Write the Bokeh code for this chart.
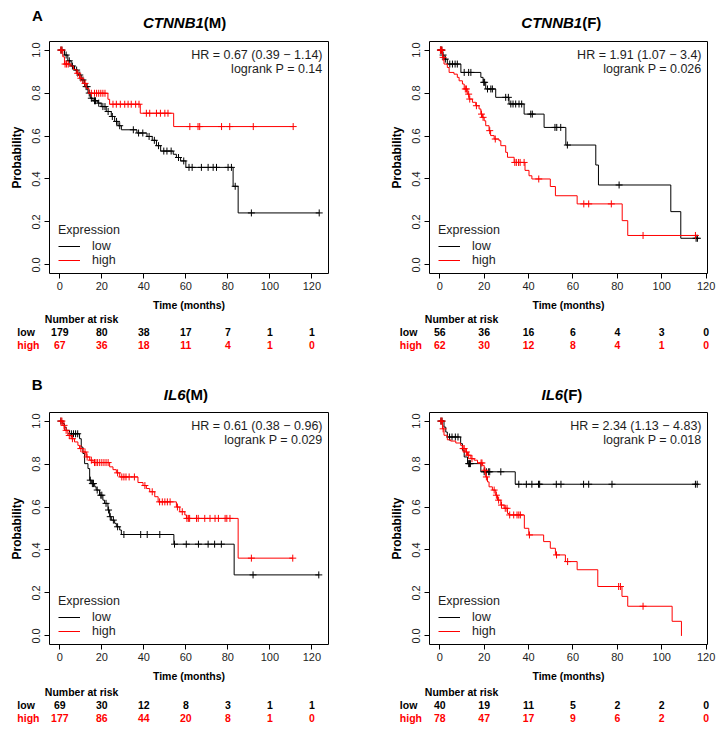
import numpy as np
from bokeh.plotting import figure
from bokeh.layouts import column, row
from bokeh.models import Range1d, FixedTicker, PrintfTickFormatter, Legend, LegendItem, Label
from bokeh.core.properties import value
from bokeh.embed import file_html
from bokeh.resources import INLINE

# ------------------------------------------------------------------ data
x_ticks = [0, 20, 40, 60, 80, 100, 120]
y_ticks = [0.0, 0.2, 0.4, 0.6, 0.8, 1.0]
risk_times = [0, 20, 40, 60, 80, 100, 120]

# A left: CTNNB1 (M)
ctnnb1_m_low_t = [2.2, 3.8, 5.4, 7.0, 8.6, 10.2, 11.8, 13.4, 14.5, 15.8, 18.1, 19.7, 22.1, 24.5,
                  26.1, 27.7, 29.3, 36.7, 41.5, 44.0, 46.0, 48.0, 54.0, 55.5, 57.5, 60.0, 82.5, 84.9]
ctnnb1_m_low_s = [0.977, 0.95, 0.926, 0.907, 0.884, 0.861, 0.83, 0.80, 0.776, 0.764, 0.753, 0.737,
                  0.714, 0.691, 0.668, 0.648, 0.629, 0.614, 0.598, 0.58, 0.555, 0.53, 0.515, 0.50,
                  0.484, 0.454, 0.366, 0.242]
ctnnb1_m_low_cens = [0.5, 1.0, 3.0, 4.5, 6.0, 8.0, 9.5, 11.0, 12.5, 13.0, 14.0, 15.0, 16.5, 17.0,
                     18.5, 20.5, 21.5, 23.0, 25.0, 27.0, 28.5, 35.0, 37.5, 39.5, 42.5, 45.0, 47.0,
                     49.5, 51.0, 53.0, 56.5, 59.0, 61.5, 63.0, 67.4, 70.6, 73.0, 74.6, 80.1, 81.7,
                     83.5, 91.2, 123.5]
ctnnb1_m_low_end = 123.5
ctnnb1_m_high_t = [1.4, 2.2, 4.9, 6.5, 7.8, 9.4, 11.0, 12.6, 13.8, 22.9, 23.7, 38.3, 54.2]
ctnnb1_m_high_s = [0.969, 0.935, 0.926, 0.910, 0.892, 0.869, 0.845, 0.822, 0.799, 0.771, 0.748,
                   0.706, 0.644]
ctnnb1_m_high_cens = [0.5, 1.0, 2.5, 3.2, 4.0, 8.5, 10.0, 12.0, 15.0, 16.5, 17.5, 18.5, 19.5, 20.5,
                      21.5, 25.3, 26.9, 28.8, 30.9, 32.5, 34.0, 36.1, 37.7, 41.2, 42.8, 46.0, 47.9,
                      50.0, 51.5, 61.9, 65.8, 66.6, 77.0, 80.9, 92.1, 111.1]
ctnnb1_m_high_end = 111.1
ctnnb1_m_risk_low = [179, 80, 38, 17, 7, 1, 1]
ctnnb1_m_risk_high = [67, 36, 18, 11, 4, 1, 0]

# A right: CTNNB1 (F)
ctnnb1_f_low_t = [1.2, 1.9, 3.4, 9.5, 18.5, 19.5, 20.7, 25.2, 31.2, 38.0, 47.0, 56.8, 70.3, 71.5,
                  104.1, 108.6]
ctnnb1_f_low_s = [0.977, 0.958, 0.935, 0.896, 0.873, 0.85, 0.819, 0.78, 0.749, 0.702, 0.64, 0.558,
                  0.465, 0.372, 0.248, 0.124]
ctnnb1_f_low_cens = [0.3, 0.6, 0.9, 1.5, 2.5, 4.5, 5.7, 6.9, 7.9, 11.0, 13.0, 14.0, 19.8, 20.2,
                     21.5, 23.0, 23.7, 29.7, 30.9, 32.0, 33.0, 34.2, 35.7, 36.9, 41.0, 41.7, 51.9,
                     52.7, 54.5, 57.5, 80.8, 115.5, 116.1]
ctnnb1_f_low_end = 116.1
ctnnb1_f_high_t = [1.2, 1.9, 3.4, 4.2, 6.4, 7.9, 8.7, 10.2, 11.0, 12.4, 13.2, 14.7, 16.2, 17.7,
                   18.5, 19.2, 20.0, 20.7, 22.2, 22.9, 24.5, 26.7, 27.5, 29.7, 30.5, 33.5, 38.4,
                   40.2, 41.5, 49.8, 52.1, 61.9, 82.2, 84.7]
ctnnb1_f_high_s = [0.966, 0.935, 0.919, 0.896, 0.888, 0.873, 0.857, 0.842, 0.819, 0.795, 0.772,
                   0.757, 0.741, 0.726, 0.702, 0.687, 0.671, 0.648, 0.625, 0.602, 0.586, 0.578,
                   0.555, 0.524, 0.501, 0.477, 0.44, 0.415, 0.40, 0.365, 0.322, 0.284, 0.206, 0.137]
ctnnb1_f_high_cens = [0.3, 0.6, 1.0, 1.5, 11.5, 12.0, 13.0, 13.5, 16.5, 18.8, 19.5, 22.5, 25.0,
                      33.8, 34.5, 35.5, 36.2, 38.0, 44.6, 64.9, 67.1, 77.3, 91.6, 115.2]
ctnnb1_f_high_end = 115.9
ctnnb1_f_risk_low = [56, 36, 16, 6, 4, 3, 0]
ctnnb1_f_risk_high = [62, 30, 12, 8, 4, 1, 0]

# B left: IL6 (M)
il6_m_low_t = [1.4, 2.2, 3.0, 4.6, 9.4, 10.2, 11.0, 11.8, 13.4, 14.2, 15.0, 16.6, 17.3, 18.9, 20.5,
               21.3, 22.9, 23.7, 24.5, 26.1, 26.9, 28.5, 29.3, 54.3, 83.0]
il6_m_low_s = [0.988, 0.972, 0.957, 0.941, 0.918, 0.879, 0.849, 0.802, 0.779, 0.725, 0.709, 0.694,
               0.679, 0.655, 0.632, 0.617, 0.586, 0.555, 0.539, 0.524, 0.508, 0.493, 0.472, 0.427,
               0.284]
il6_m_low_cens = [0.5, 5.5, 6.5, 7.5, 8.5, 14.5, 15.5, 16.0, 17.8, 19.5, 20.0, 22.0, 23.2, 24.0,
                  25.5, 27.5, 30.5, 38.5, 41.6, 47.6, 54.6, 60.2, 66.0, 70.6, 73.7, 76.9, 92.0,
                  123.3]
il6_m_low_end = 123.5
il6_m_high_t = [1.4, 2.2, 3.8, 5.4, 7.0, 8.6, 9.4, 11.0, 12.6, 14.2, 15.8, 23.7, 25.3, 26.9, 28.5,
                37.2, 39.6, 41.2, 42.8, 45.2, 46.8, 55.5, 57.1, 59.5, 60.3, 84.9]
il6_m_high_s = [0.98, 0.957, 0.933, 0.918, 0.903, 0.887, 0.872, 0.856, 0.833, 0.818, 0.807, 0.787,
                0.774, 0.759, 0.74, 0.714, 0.70, 0.686, 0.671, 0.648, 0.624, 0.60, 0.578, 0.563,
                0.547, 0.362]
il6_m_high_cens = [0.5, 1.0, 2.0, 3.0, 4.5, 6.0, 10.0, 12.0, 13.0, 15.0, 16.5, 17.2, 18.0, 19.0,
                   20.0, 21.0, 22.0, 23.0, 27.5, 29.5, 30.5, 31.5, 33.0, 35.5, 40.5, 44.0, 47.5,
                   48.8, 50.0, 51.2, 52.5, 56.0, 58.3, 60.5, 61.2, 61.8, 65.1, 65.9, 69.0, 71.5,
                   73.9, 75.5, 78.7, 79.5, 81.0, 91.2, 110.9]
il6_m_high_end = 110.9
il6_m_risk_low = [69, 30, 12, 8, 3, 1, 1]
il6_m_risk_high = [177, 86, 44, 20, 8, 1, 0]

# B right: IL6 (F)
il6_f_low_t = [1.9, 2.7, 3.4, 9.4, 10.2, 11.0, 12.5, 18.5, 34.0]
il6_f_low_s = [0.972, 0.949, 0.926, 0.895, 0.864, 0.833, 0.802, 0.764, 0.706]
il6_f_low_cens = [0.5, 1.0, 4.4, 5.5, 7.0, 8.2, 13.0, 13.4, 13.8, 20.0, 21.0, 22.0, 22.5, 27.5,
                  35.6, 39.0, 41.5, 44.5, 45.0, 52.5, 54.6, 64.8, 67.1, 77.6, 115.2, 116.0]
il6_f_low_end = 116.1
il6_f_high_t = [1.2, 1.9, 3.4, 4.9, 7.2, 9.4, 10.2, 11.7, 12.5, 14.0, 15.5, 17.0, 19.2, 20.0, 20.7,
                21.5, 22.2, 23.7, 25.2, 26.0, 27.5, 29.0, 30.5, 31.2, 38.1, 40.1, 46.8, 49.8, 52.1,
                56.6, 61.9, 71.2, 82.1, 84.7, 104.7, 108.9]
il6_f_high_s = [0.964, 0.934, 0.913, 0.907, 0.898, 0.887, 0.872, 0.856, 0.841, 0.825, 0.818, 0.805,
                0.794, 0.771, 0.74, 0.717, 0.694, 0.679, 0.655, 0.632, 0.609, 0.594, 0.570, 0.563,
                0.501, 0.47, 0.439, 0.408, 0.377, 0.346, 0.308, 0.23, 0.184, 0.138, 0.068, 0.0]
il6_f_high_cens = [0.5, 1.0, 1.5, 10.5, 11.0, 12.0, 13.0, 14.5, 18.6, 19.0, 20.3, 21.0, 24.5, 25.5,
                   26.5, 27.8, 29.5, 30.3, 31.5, 33.3, 34.8, 35.6, 36.3, 40.4, 52.6, 57.6, 80.6,
                   81.4, 91.6]
il6_f_high_end = 108.9
il6_f_risk_low = [40, 19, 11, 5, 2, 2, 0]
il6_f_risk_high = [78, 47, 17, 9, 6, 2, 0]

# ------------------------------------------------------------------ style
FONT = "Liberation Sans"
TXT = "#1e1e1e"
RED = "#ff0000"
BLK = "#000000"
COL = {"L": dict(width=361, left=49, right=33, lab_off=42.5),
       "R": dict(width=360, left=68, right=14, lab_off=40.0)}


def step_value(times, surv, c):
    i = int(np.searchsorted(np.asarray(times), c, side="right"))
    return 1.0 if i == 0 else surv[i - 1]


def blank_figure(width, height, xr, yr):
    f = figure(width=width, height=height, x_range=xr, y_range=yr, x_axis_type=None,
               y_axis_type=None, output_backend="svg", toolbar_location=None, min_border=0)
    f.outline_line_color = None
    f.background_fill_color = "white"
    f.border_fill_color = "white"
    return f


def header_figure(side, height, gene, suffix, jx, ty, letter=None, lx=0, ly=0):
    w = COL[side]["width"]
    h = blank_figure(w, height, Range1d(0, w), Range1d(height, 0))
    h.text(x=[jx], y=[ty], text=[gene], text_align="right", text_baseline="middle",
           text_font=value(FONT), text_font_style="bold italic", text_font_size="15px",
           text_color=BLK)
    h.text(x=[jx], y=[ty], text=[suffix], text_align="left", text_baseline="middle",
           text_font=value(FONT), text_font_style="bold", text_font_size="15px", text_color=BLK)
    if letter:
        h.text(x=[lx], y=[ly], text=[letter], text_align="center", text_baseline="middle",
               text_font=value(FONT), text_font_style="bold", text_font_size="15px",
               text_color=BLK)
    return h


def km_figure(side, tmax, height, top, bottom, curves, hr_text, p_text):
    c = COL[side]
    x0, x1 = -0.04 * tmax, 1.04 * tmax
    p = figure(width=c["width"], height=height, x_range=Range1d(x0, x1),
               y_range=Range1d(-0.04, 1.04), output_backend="svg", toolbar_location=None,
               min_border_left=c["left"], min_border_right=c["right"], min_border_top=top,
               min_border_bottom=bottom, x_axis_label="Time (months)",
               y_axis_label="Probability")
    p.xgrid.visible = False
    p.ygrid.visible = False
    p.outline_line_color = "black"
    p.outline_line_alpha = 1
    p.outline_line_width = 1
    p.background_fill_color = "white"
    p.border_fill_color = "white"
    for ax, ticks, bounds in ((p.xaxis[0], x_ticks, (0, 120)), (p.yaxis[0], y_ticks, (0, 1))):
        ax.ticker = FixedTicker(ticks=ticks)
        ax.bounds = bounds
        ax.axis_line_color = "black"
        ax.major_tick_line_color = "black"
        ax.major_tick_out = 5
        ax.major_tick_in = 0
        ax.minor_tick_line_color = None
        ax.major_label_text_font = FONT
        ax.major_label_text_font_size = "11px"
        ax.major_label_text_color = TXT
        ax.axis_label_text_font = FONT
        ax.axis_label_text_font_style = "bold"
        ax.axis_label_text_color = BLK
    p.xaxis.major_label_standoff = 3
    p.xaxis.axis_label_standoff = 6
    p.xaxis.axis_label_text_font_size = "10.5px"
    p.yaxis.formatter = PrintfTickFormatter(format="%.1f")
    p.yaxis.major_label_orientation = "vertical"
    p.yaxis.major_label_standoff = 4
    p.yaxis.axis_label_standoff = 6
    p.yaxis.axis_label_text_font_size = "12px"

    items = []
    for label, t, s, cens, tend, color in curves:
        xs = [0.0] + list(t) + [tend]
        ys = [1.0] + list(s) + [s[-1]]
        r = p.step(xs, ys, mode="after", line_color=color, line_width=1)
        cy = [step_value(t, s, cc) for cc in cens]
        p.scatter(cens, cy, marker="cross", size=7, line_color=color, line_width=1)
        items.append(LegendItem(label=label, renderers=[r]))

    leg = Legend(items=items, title="Expression", location=(9, 6), padding=0, margin=0,
                 spacing=0, glyph_width=22, glyph_height=12, label_height=12,
                 label_standoff=12, title_standoff=2, border_line_alpha=0,
                 background_fill_alpha=0, label_text_font=FONT, label_text_font_size="12.5px",
                 label_text_color=TXT, title_text_font=FONT, title_text_font_size="12.5px",
                 title_text_font_style="normal", title_text_color=TXT)
    p.add_layout(leg)

    for txt, dy in ((hr_text, -13.6), (p_text, -27.5)):
        p.add_layout(Label(x=x1, y=1.04, x_units="data", y_units="data", x_offset=-6,
                           y_offset=dy, text=txt, text_align="right", text_baseline="middle",
                           text_font=FONT, text_font_size="12.5px", text_color=TXT))
    return p


def risk_figure(side, tmax, height, rows_y, low_n, high_n):
    c = COL[side]
    x0, x1 = -0.04 * tmax, 1.04 * tmax
    sc = (c["width"] - c["left"] - c["right"]) / (x1 - x0)
    r = blank_figure(c["width"], height,
                     Range1d(x0 - c["left"] / sc, x1 + c["right"] / sc), Range1d(height, 0))
    common = dict(text_baseline="middle", text_font=value(FONT), text_font_style="bold",
                  text_font_size="10.5px")
    r.text(x=[-15 / sc], y=[rows_y[0]], text=["Number at risk"], text_align="left",
           text_color=BLK, **common)
    r.text(x=[-c["lab_off"] / sc] * 2, y=[rows_y[1], rows_y[2]], text=["low", "high"],
           text_align="left", text_color=[BLK, RED], **common)
    r.text(x=risk_times, y=[rows_y[1]] * len(risk_times), text=[str(n) for n in low_n],
           text_align="center", text_color=BLK, **common)
    r.text(x=risk_times, y=[rows_y[2]] * len(risk_times), text=[str(n) for n in high_n],
           text_align="center", text_color=RED, **common)
    return r


# ------------------------------------------------------------------ build
hA_L = header_figure("L", 38, "CTNNB1", "(M)", 203.3, 22.3, "A", 37, 15)
hA_R = header_figure("R", 38, "CTNNB1", "(F)", 220.7, 22.3)
pA_L = km_figure("L", 123.0, 275, 3, 39,
                 [("low", ctnnb1_m_low_t, ctnnb1_m_low_s, ctnnb1_m_low_cens, ctnnb1_m_low_end, BLK),
                  ("high", ctnnb1_m_high_t, ctnnb1_m_high_s, ctnnb1_m_high_cens, ctnnb1_m_high_end, RED)],
                 "HR = 0.67 (0.39 \u2212 1.14)", "logrank P = 0.14")
pA_R = km_figure("R", 116.0, 275, 3, 39,
                 [("low", ctnnb1_f_low_t, ctnnb1_f_low_s, ctnnb1_f_low_cens, ctnnb1_f_low_end, BLK),
                  ("high", ctnnb1_f_high_t, ctnnb1_f_high_s, ctnnb1_f_high_cens, ctnnb1_f_high_end, RED)],
                 "HR = 1.91 (1.07 \u2212 3.4)", "logrank P = 0.026")
rA_L = risk_figure("L", 123.0, 63, [5, 18, 31], ctnnb1_m_risk_low, ctnnb1_m_risk_high)
rA_R = risk_figure("R", 116.0, 63, [5, 18, 31], ctnnb1_f_risk_low, ctnnb1_f_risk_high)

hB_L = header_figure("L", 32, "IL6", "(M)", 185.0, 18.0, "B", 36.7, 7.8)
hB_R = header_figure("R", 32, "IL6", "(F)", 201.7, 18.0)
pB_L = km_figure("L", 123.0, 276, 4, 39,
                 [("low", il6_m_low_t, il6_m_low_s, il6_m_low_cens, il6_m_low_end, BLK),
                  ("high", il6_m_high_t, il6_m_high_s, il6_m_high_cens, il6_m_high_end, RED)],
                 "HR = 0.61 (0.38 \u2212 0.96)", "logrank P = 0.029")
pB_R = km_figure("R", 116.0, 276, 4, 39,
                 [("low", il6_f_low_t, il6_f_low_s, il6_f_low_cens, il6_f_low_end, BLK),
                  ("high", il6_f_high_t, il6_f_high_s, il6_f_high_cens, il6_f_high_end, RED)],
                 "HR = 2.34 (1.13 \u2212 4.83)", "logrank P = 0.018")
rB_L = risk_figure("L", 123.0, 46, [7.7, 20.3, 33.3], il6_m_risk_low, il6_m_risk_high)
rB_R = risk_figure("R", 116.0, 46, [7.7, 20.3, 33.3], il6_f_risk_low, il6_f_risk_high)

layout = column(row(hA_L, hA_R), row(pA_L, pA_R), row(rA_L, rA_R),
                row(hB_L, hB_R), row(pB_L, pB_R), row(rB_L, rB_R))

open("out.html", "w").write(file_html(layout, INLINE))
